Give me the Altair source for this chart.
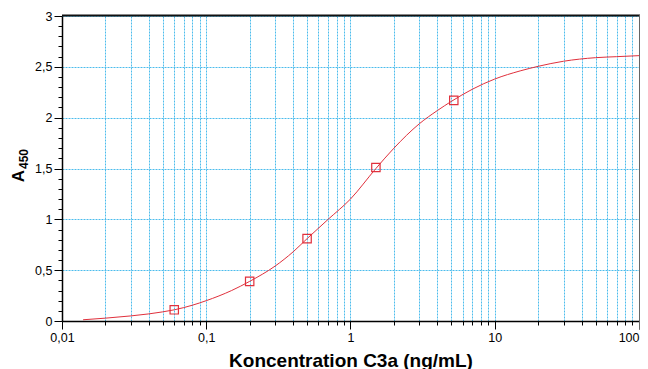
import altair as alt
import pandas as pd

# Standard points (concentration ng/mL, A450)
std_x = [0.06, 0.2, 0.5, 1.5, 5.2]
std_y = [0.11, 0.39, 0.81, 1.51, 2.17]

# Fitted curve
curve_x = [0.014, 0.02, 0.03, 0.04, 0.05, 0.06, 0.08, 0.1, 0.15, 0.2, 0.3, 0.4, 0.5,
           0.7, 1, 1.5, 2, 3, 4, 5, 7, 10, 15, 20, 30, 50, 70, 100]
curve_y = [0.012, 0.028, 0.05, 0.07, 0.09, 0.11, 0.155, 0.2, 0.3, 0.39, 0.54, 0.68, 0.81,
           1.0, 1.2, 1.5, 1.7, 1.94, 2.07, 2.16, 2.28, 2.38, 2.46, 2.505, 2.555, 2.59, 2.60, 2.61]

x_ticks = [round(k * 10 ** e, 6) for e in range(-2, 2) for k in range(1, 10)] + [100]
x_major = [0.01, 0.1, 1, 10, 100]
y_ticks = [round(i / 10, 1) for i in range(0, 31)]
y_major = [0, 0.5, 1, 1.5, 2, 2.5, 3]
y_labels = ["0", "0,5", "1", "1,5", "2", "2,5", "3"]

W, H = 577, 305
RED = "#e0303c"
GRID = "#4cbcec"
FONT = "Liberation Sans"

xscale = alt.Scale(type="log", domain=[0.01, 100], nice=False)
yscale = alt.Scale(domain=[0, 3], nice=False)

xm = "[" + ",".join(str(v) for v in x_major) + "]"
ym = "[" + ",".join(str(v) for v in y_major) + "]"
yl = "[" + ",".join("'" + s + "'" for s in y_labels) + "]"
is_major_x = f"indexof({xm}, datum.value) >= 0"
is_major_y = f"indexof({ym}, datum.value) >= 0"

x_axis = alt.Axis(
    values=x_ticks,
    title="Koncentration C3a (ng/mL)",
    titleFont="Liberation Sans", titleFontSize=19, titleFontWeight="bold", titleColor="black",
    titleBaseline="alphabetic", titleY=45,
    labelExpr=f"{is_major_x} ? replace(format(datum.value, ''), '.', ',') : ''",
    labelFont=FONT, labelFontSize=12.5, labelColor="black", labelPadding=2,
    labelOverlap=False, labelFlush=False,
    labelAlign={"condition": {"test": "datum.value >= 100", "value": "right"}, "value": "center"},
    tickSize={"condition": {"test": is_major_x, "value": 8}, "value": 4},
    tickColor="black", tickWidth=1,
    domainColor="black", domainWidth=1.5,
    grid=True, gridColor=GRID, gridDash=[2, 1], gridWidth=1,
)

y_axis = alt.Axis(
    values=y_ticks,
    title=None,
    labelExpr=f"{is_major_y} ? {yl}[indexof({ym}, datum.value)] : ''",
    labelFont=FONT, labelFontSize=12.5, labelColor="black", labelPadding=2,
    labelOverlap=False, labelFlush=False,
    tickSize={"condition": {"test": is_major_y, "value": 8}, "value": 4},
    tickColor="black", tickWidth=1,
    domainColor="black", domainWidth=1.5,
    grid=True, gridColor=GRID, gridDash=[2, 1], gridWidth=1,
    gridOpacity={"condition": {"test": is_major_y, "value": 1}, "value": 0},
)

curve_df = pd.DataFrame({"x": curve_x, "y": curve_y})
std_df = pd.DataFrame({"x": std_x, "y": std_y})

line = alt.Chart(curve_df).mark_line(color=RED, strokeWidth=1, interpolate="monotone", clip=True).encode(
    x=alt.X("x:Q", scale=xscale, axis=x_axis),
    y=alt.Y("y:Q", scale=yscale, axis=y_axis),
)

pts = alt.Chart(std_df).mark_point(shape="square", filled=False, size=70, color=RED, strokeWidth=1.2, opacity=1).encode(
    x=alt.X("x:Q", scale=xscale, axis=x_axis),
    y=alt.Y("y:Q", scale=yscale, axis=y_axis),
)

top_rule = alt.Chart(pd.DataFrame({"a": [0]})).mark_rule(color="#111", strokeWidth=2).encode(
    x=alt.value(0), x2=alt.value(W + 1), y=alt.value(-0.5)
)
right_rule = alt.Chart(pd.DataFrame({"a": [0]})).mark_rule(color="#666", strokeWidth=2).encode(
    x=alt.value(W + 1), y=alt.value(-1), y2=alt.value(H + 8)
)

a_txt = alt.Chart(pd.DataFrame({"t": ["A"]})).mark_text(
    font="Liberation Sans", fontSize=17, fontWeight="bold", angle=270, align="center", baseline="middle", color="black"
).encode(text="t:N", x=alt.value(19 - 62), y=alt.value(176 - 16))
sub_txt = alt.Chart(pd.DataFrame({"t": ["450"]})).mark_text(
    font="Liberation Sans", fontSize=12, fontWeight="bold", angle=270, align="center", baseline="middle", color="black"
).encode(text="t:N", x=alt.value(23.5 - 62), y=alt.value(159 - 16))

chart = alt.layer(line, pts, top_rule, right_rule, a_txt, sub_txt).properties(
    width=W, height=H,
    autosize=alt.AutoSizeParams(type="none"),
    padding={"left": 54, "top": 8, "right": 1, "bottom": 48},
).configure_view(stroke=None).configure(background="white")

chart.save("out.html", embed_options={"renderer": "svg", "actions": False})
